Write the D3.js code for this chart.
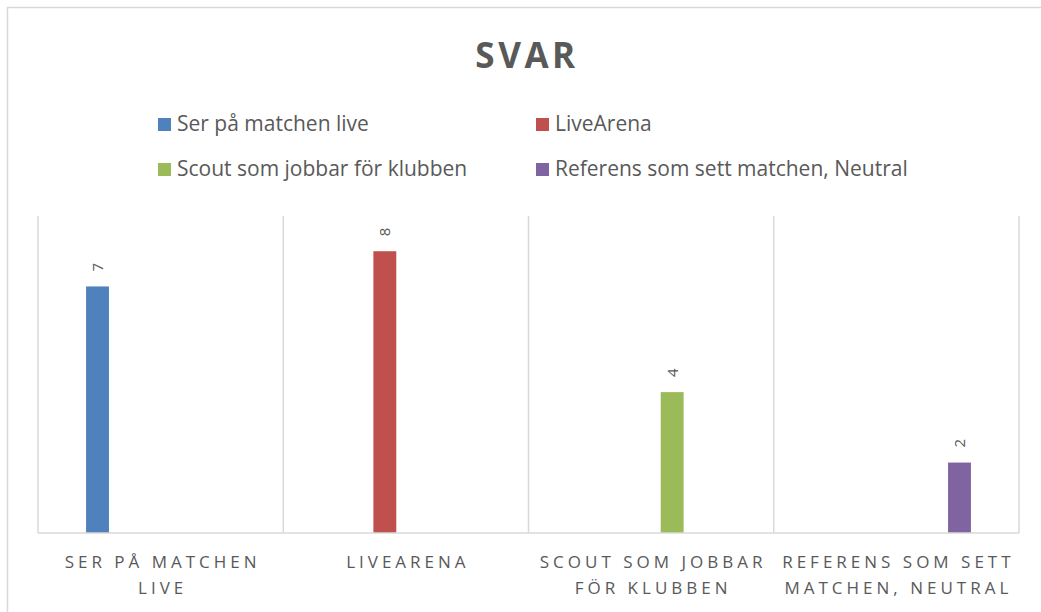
<!DOCTYPE html>
<html lang="sv">
<head>
<meta charset="utf-8">
<title>SVAR</title>
<style>
  body { margin: 0; background: #fff; overflow: hidden; font-family: "Open Sans", "Noto Sans", sans-serif; }
  svg text { fill: #595959; }
  .grid line { stroke: #d9d9d9; stroke-width: 1.5px; }
</style>
</head>
<body>
<div id="chart"></div>
<script src="https://cdn.jsdelivr.net/npm/d3@7"></script>
<script>
// categories on the x axis
var categories = ["Ser på matchen live", "LiveArena", "Scout som jobbar för klubben", "Referens som sett matchen, Neutral"];

// series (legend entries), one value per category, blank where missing
var seriesNames = ["Ser på matchen live", "LiveArena", "Scout som jobbar för klubben", "Referens som sett matchen, Neutral"];
var serPaMatchenLive = [7, null, null, null];
var liveArena = [null, 8, null, null];
var scoutKlubben = [null, null, 4, null];
var referensNeutral = [null, null, null, 2];
var seriesColors = ["#4f81bd", "#c0504d", "#9bbb59", "#8064a2"];

var yMax = 9;

var W = 1041, H = 612;
var plot = { left: 38, right: 1019, top: 216, bottom: 533 };

var svg = d3.select("#chart").append("svg")
    .attr("width", W)
    .attr("height", H);

// outer chart frame
svg.append("rect")
    .attr("x", 7.5).attr("y", 7.5)
    .attr("width", W + 20).attr("height", H + 20)
    .attr("fill", "#fff")
    .attr("stroke", "#d9d9d9")
    .attr("stroke-width", 1.5);

// title
svg.append("text")
    .attr("x", 527).attr("y", 68)
    .attr("text-anchor", "middle")
    .style("font-size", "35px")
    .style("font-weight", "bold")
    .style("letter-spacing", "3.5px")
    .text("SVAR");

var seriesData = [serPaMatchenLive, liveArena, scoutKlubben, referensNeutral].map(function(vals, i) {
  return { name: seriesNames[i], color: seriesColors[i], values: vals };
});

// legend, 2 columns
var legendCols = [158, 536], legendRows = [118, 163];
var legend = svg.append("g").selectAll("g")
    .data(seriesData)
    .enter().append("g")
    .attr("transform", function(d, i) { return "translate(" + legendCols[i % 2] + "," + legendRows[Math.floor(i / 2)] + ")"; });
legend.append("rect")
    .attr("width", 13).attr("height", 13)
    .attr("fill", function(d) { return d.color; });
legend.append("text")
    .attr("x", 19).attr("y", 13)
    .style("font-size", "21px")
    .text(function(d) { return d.name; });

// scales
var x0 = d3.scaleBand().domain(categories).range([plot.left, plot.right]).padding(0);
var bw = x0.bandwidth();
var x1 = d3.scaleBand().domain(seriesNames).range([bw * 0.196, bw * 0.804]).paddingInner(0.456);
var y = d3.scaleLinear().domain([0, yMax]).range([plot.bottom, plot.top]);

// vertical category gridlines
var gridX = categories.map(function(c) { return x0(c); }).concat([plot.right]);
svg.append("g").attr("class", "grid").selectAll("line")
    .data(gridX)
    .enter().append("line")
    .attr("x1", function(d) { return d; }).attr("x2", function(d) { return d; })
    .attr("y1", y(yMax)).attr("y2", y(0));

// bars
var points = [];
seriesData.forEach(function(s) {
  s.values.forEach(function(v, j) {
    if (v != null) points.push({ series: s.name, color: s.color, cat: categories[j], value: v });
  });
});

svg.append("g").selectAll("rect")
    .data(points)
    .enter().append("rect")
    .attr("x", function(d) { return x0(d.cat) + x1(d.series); })
    .attr("width", x1.bandwidth())
    .attr("y", function(d) { return y(d.value); })
    .attr("height", function(d) { return y(0) - y(d.value); })
    .attr("fill", function(d) { return d.color; });

// data labels, rotated
svg.append("g").selectAll("text")
    .data(points)
    .enter().append("text")
    .attr("transform", function(d) {
      var cx = x0(d.cat) + x1(d.series) + x1.bandwidth() / 2;
      return "translate(" + (cx + 5.5) + "," + (y(d.value) - 15) + ") rotate(-90)";
    })
    .style("font-size", "15px")
    .text(function(d) { return d.value; });

// baseline
svg.append("line")
    .attr("x1", plot.left).attr("x2", plot.right)
    .attr("y1", y(0)).attr("y2", y(0))
    .attr("stroke", "#d9d9d9").attr("stroke-width", 1.5);

// category labels, wrapped to band width
var catLabels = svg.append("g").selectAll("text")
    .data(categories)
    .enter().append("text")
    .attr("text-anchor", "middle")
    .style("font-size", "17px")
    .style("letter-spacing", "4px")
    .attr("x", function(d) { return x0(d) + bw / 2; })
    .attr("y", 568);

catLabels.each(function(d) {
  var el = d3.select(this);
  var words = d.toUpperCase().split(" ");
  var lines = [], line = [];
  var probe = el.append("tspan");
  words.forEach(function(w) {
    line.push(w);
    probe.text(line.join(" "));
    if (probe.node().getComputedTextLength() > bw - 5 && line.length > 1) {
      line.pop();
      lines.push(line.join(" "));
      line = [w];
    }
  });
  lines.push(line.join(" "));
  probe.remove();
  var cx = x0(d) + bw / 2 + 2;
  lines.forEach(function(l, i) {
    el.append("tspan")
      .attr("x", cx)
      .attr("dy", i === 0 ? 0 : 26)
      .text(l);
  });
});
</script>
</body>
</html>
